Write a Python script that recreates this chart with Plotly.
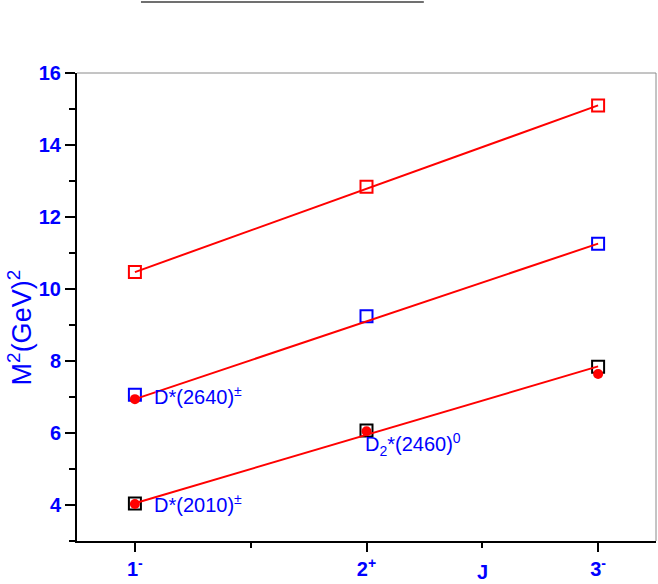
import plotly.graph_objects as go

# J values and tick labels
j_vals = [1, 2, 3]
j_labels = ["1<sup>-</sup>", "2<sup>+</sup>", "3<sup>-</sup>"]

# predicted masses squared (open squares)
upper_pred = [10.47, 12.84, 15.10]
middle_pred = [7.06, 9.24, 11.26]
lower_pred = [4.04, 6.07, 7.84]

# experimental points (red dots)
exp_j = [1, 1, 2, 3]
exp_m2 = [6.94, 4.03, 6.05, 7.64]

# Regge trajectory fit lines (endpoints)
line_j = [1, 3]
upper_line = [10.47, 15.10]
middle_line = [6.94, 11.26]
lower_line = [4.05, 7.85]

BLUE = "#0000ff"
RED = "#ff0000"
FONT = "Liberation Sans"

fig = go.Figure()

fig.add_trace(go.Scatter(x=j_vals, y=upper_pred, mode="markers",
                         marker=dict(symbol="square-open", size=12, color=RED, line=dict(width=2, color=RED))))
fig.add_trace(go.Scatter(x=j_vals, y=middle_pred, mode="markers",
                         marker=dict(symbol="square-open", size=12, color=BLUE, line=dict(width=2, color=BLUE))))
fig.add_trace(go.Scatter(x=j_vals, y=lower_pred, mode="markers",
                         marker=dict(symbol="square-open", size=12, color="black", line=dict(width=2, color="black"))))

for ly in [upper_line, middle_line, lower_line]:
    fig.add_trace(go.Scatter(x=line_j, y=ly, mode="lines", line=dict(color=RED, width=2)))

fig.add_trace(go.Scatter(x=exp_j, y=exp_m2, mode="markers",
                         marker=dict(symbol="circle", size=10, color=RED)))

# state labels
fig.add_annotation(x=1.074, y=7.05, text="D*(2640)<sup>±</sup>", showarrow=False,
                   xanchor="left", yanchor="middle", font=dict(family=FONT, size=20, color=BLUE))
fig.add_annotation(x=1.074, y=4.03, text="D*(2010)<sup>±</sup>", showarrow=False,
                   xanchor="left", yanchor="middle", font=dict(family=FONT, size=20, color=BLUE))
fig.add_annotation(x=1.985, y=5.68, text="D<sub>2</sub>*(2460)<sup>0</sup>", showarrow=False,
                   xanchor="left", yanchor="middle", font=dict(family=FONT, size=20, color=BLUE))

# axis titles
fig.add_annotation(xref="x", yref="paper", x=2.5, y=-0.066, text="J", showarrow=False,
                   xanchor="center", yanchor="middle",
                   font=dict(family=FONT, size=20, color=BLUE, weight="bold"))
fig.add_annotation(xref="paper", yref="paper", x=-0.098, y=0.457,
                   text="M<sup>2</sup>(GeV)<sup>2</sup>", textangle=-90, showarrow=False,
                   xanchor="center", yanchor="middle",
                   font=dict(family=FONT, size=27, color=BLUE))

# thin frame on top/right plus the stray line at the top of the page
fig.add_shape(type="line", xref="paper", yref="paper", x0=0, x1=1, y0=1, y1=1,
              line=dict(color="#8a8a8a", width=1))
fig.add_shape(type="line", xref="paper", yref="paper", x0=1, x1=1, y0=0, y1=1,
              line=dict(color="#8a8a8a", width=1))
fig.add_shape(type="line", xref="paper", yref="paper", x0=0.1105, x1=0.599, y0=1.1517, y1=1.1517,
              line=dict(color="#707070", width=2))

fig.update_xaxes(range=[0.75, 3.25], tickvals=j_vals, ticktext=j_labels,
                 ticks="outside", ticklen=9, tickwidth=2, tickcolor="black",
                 minor=dict(tickvals=[1.5, 2.5], ticks="outside", ticklen=5, tickwidth=2, tickcolor="black"),
                 showline=True, linecolor="black", linewidth=2,
                 showgrid=False, zeroline=False,
                 tickfont=dict(family=FONT, size=20, color=BLUE, weight="bold"))
fig.update_yaxes(range=[3, 16], tick0=4, dtick=2,
                 ticks="outside", ticklen=10, tickwidth=2, tickcolor="black",
                 minor=dict(dtick=1, ticks="outside", ticklen=6, tickwidth=2, tickcolor="black"),
                 showline=True, linecolor="black", linewidth=2,
                 showgrid=False, zeroline=False,
                 tickfont=dict(family=FONT, size=20, color=BLUE, weight="bold"))

fig.update_layout(width=658, height=584, showlegend=False,
                  margin=dict(l=77, r=2, t=73, b=43),
                  plot_bgcolor="white", paper_bgcolor="white")

# drop the browser's default page margin so the figure sits at the corner
fig.write_html("out.html", config={"displayModeBar": False},
               post_script="document.body.style.margin='0';")
